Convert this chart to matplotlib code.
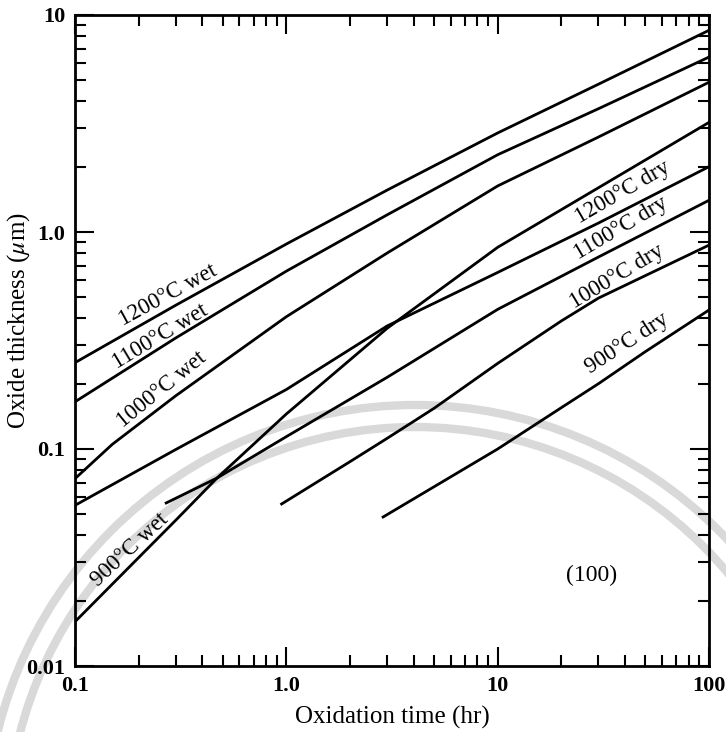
import matplotlib.pyplot as plt
from matplotlib.patches import Arc
from matplotlib.ticker import NullFormatter

plt.rcParams['font.family'] = ['Liberation Serif', 'DejaVu Serif']
plt.rcParams['mathtext.fontset'] = 'stix'

# oxidation time (hr) and oxide thickness (um)
t_1200w = [0.1, 0.3, 1, 3, 10, 30, 100]
d_1200w = [0.25, 0.46, 0.88, 1.56, 2.86, 4.8, 8.5]
t_1100w = [0.1, 0.3, 1, 3, 10, 30, 100]
d_1100w = [0.165, 0.325, 0.66, 1.2, 2.27, 3.7, 6.4]
t_1000w = [0.1, 0.15, 0.3, 1, 3, 10, 30, 100]
d_1000w = [0.073, 0.105, 0.176, 0.407, 0.80, 1.63, 2.74, 4.9]
t_900w = [0.1, 0.3, 0.47, 1, 3, 10, 30, 100]
d_900w = [0.016, 0.047, 0.0735, 0.145, 0.36, 0.85, 1.6, 3.2]

t_1200d = [0.1, 0.3, 1, 3, 10, 30, 100]
d_1200d = [0.055, 0.0995, 0.188, 0.369, 0.651, 1.10, 2.0]
t_1100d = [0.27, 0.47, 1, 3, 10, 30, 100]
d_1100d = [0.0564, 0.0735, 0.114, 0.214, 0.44, 0.767, 1.40]
t_1000d = [0.95, 2, 3, 5, 10, 20, 30, 100]
d_1000d = [0.0558, 0.0874, 0.112, 0.154, 0.248, 0.389, 0.496, 0.87]
t_900d = [2.87, 10, 20, 30, 50, 100]
d_900d = [0.0486, 0.1, 0.155, 0.20, 0.281, 0.437]

x_ticks = [0.1, 1, 10, 100]
x_ticklabels = ['0.1', '1.0', '10', '100']
y_ticks = [0.01, 0.1, 1, 10]
y_ticklabels = ['0.01', '0.1', '1.0', '10']

curves = [(t_1200w, d_1200w), (t_1100w, d_1100w), (t_1000w, d_1000w), (t_900w, d_900w),
          (t_1200d, d_1200d), (t_1100d, d_1100d), (t_1000d, d_1000d), (t_900d, d_900d)]

# label text, position (hr, um), angle
labels = [('1200°C wet', 0.276, 0.513, 28.5),
          ('1100°C wet', 0.252, 0.328, 31),
          ('1000°C wet', 0.258, 0.187, 39),
          ('900°C wet', 0.182, 0.0343, 43),
          ('1200°C dry', 39.2, 1.53, 30),
          ('1100°C dry', 38.4, 1.04, 30.5),
          ('1000°C dry', 36.7, 0.62, 31),
          ('900°C dry', 40.9, 0.308, 33)]

fig = plt.figure(figsize=(7.26, 7.32), dpi=100)
ax = fig.add_axes([75/726, 1-666/732, 634/726, 651/732])
ax.patch.set_facecolor('none')

# faint watermark rings behind the plot
for r in [430, 408]:
    fig.add_artist(Arc((415/726, 1-835/732), 2*r/726, 2*r/732, theta1=0, theta2=180,
                       transform=fig.transFigure, color='#d9d9d9', lw=6, zorder=-1))

for t, d in curves:
    ax.plot(t, d, color='black', lw=2)

for s, x, y, rot in labels:
    ax.text(x, y, s, rotation=rot, rotation_mode='anchor', ha='center', va='center',
            fontsize=16.5)
ax.text(27.7, 0.026, '(100)', ha='center', va='center', fontsize=17)

ax.set_xscale('log')
ax.set_yscale('log')
ax.set_xlim(0.1, 100)
ax.set_ylim(0.01, 10)
ax.set_xticks(x_ticks)
ax.set_xticklabels(x_ticklabels)
ax.set_yticks(y_ticks)
ax.set_yticklabels(y_ticklabels)
ax.xaxis.set_minor_formatter(NullFormatter())
ax.yaxis.set_minor_formatter(NullFormatter())
ax.tick_params(which='both', direction='in', top=True, right=True, width=1.5)
ax.tick_params(which='major', length=14, labelsize=16, pad=7)
ax.tick_params(which='minor', length=8)
for lab in ax.get_xticklabels() + ax.get_yticklabels():
    lab.set_fontweight('bold')
for sp in ax.spines.values():
    sp.set_linewidth(2)

ax.set_xlabel('Oxidation time (hr)', fontsize=18)
ax.xaxis.set_label_coords(0.5, -0.062)
ax.set_ylabel(r'Oxide thickness ($\mu$m)', fontsize=18)
ax.yaxis.set_label_coords(-0.068, 0.53)

fig.savefig('out.png', dpi=100)
